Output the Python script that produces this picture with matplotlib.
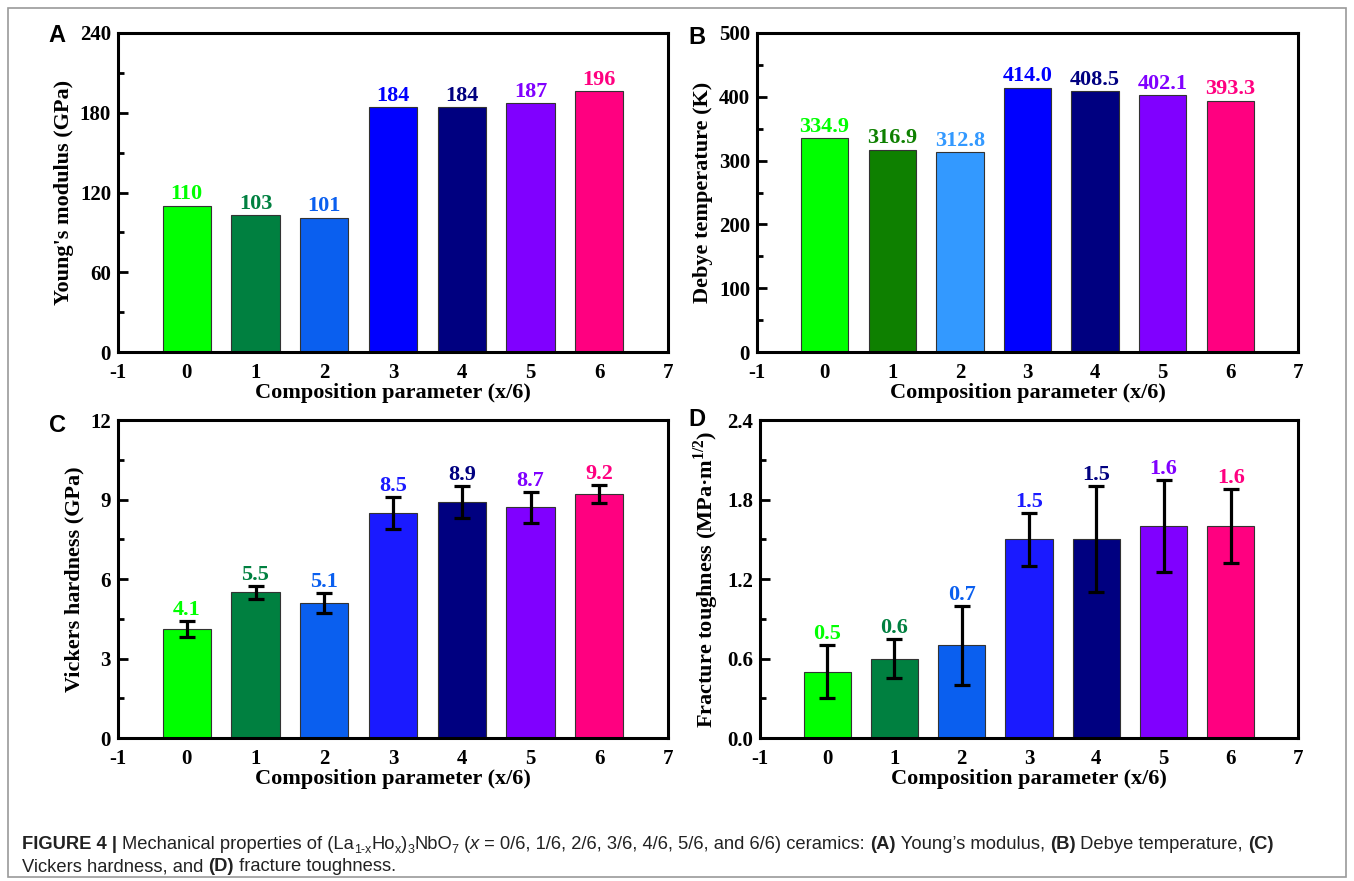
import matplotlib
matplotlib.use("Agg")
import matplotlib.pyplot as plt
from matplotlib.patches import Rectangle
from matplotlib.ticker import MultipleLocator

plt.rcParams['mathtext.fontset'] = 'custom'
plt.rcParams['mathtext.rm'] = 'Liberation Serif:bold'
plt.rcParams['mathtext.bf'] = 'Liberation Serif:bold'
plt.rcParams['axes.unicode_minus'] = False

# ---------------- data ----------------
compositions = [0, 1, 2, 3, 4, 5, 6]
young_modulus = [110, 103, 101, 184, 184, 187, 196]
young_labels = ["110", "103", "101", "184", "184", "187", "196"]
debye_temp = [334.9, 316.9, 312.8, 414.0, 408.5, 402.1, 393.3]
debye_labels = ["334.9", "316.9", "312.8", "414.0", "408.5", "402.1", "393.3"]
vickers = [4.1, 5.5, 5.1, 8.5, 8.9, 8.7, 9.2]
vickers_err = [0.3, 0.25, 0.38, 0.6, 0.6, 0.58, 0.35]
vickers_labels = ["4.1", "5.5", "5.1", "8.5", "8.9", "8.7", "9.2"]
toughness = [0.5, 0.6, 0.7, 1.5, 1.5, 1.6, 1.6]
toughness_err = [0.2, 0.15, 0.3, 0.2, 0.4, 0.35, 0.28]
toughness_labels = ["0.5", "0.6", "0.7", "1.5", "1.5", "1.6", "1.6"]
xtick_values = [-1, 0, 1, 2, 3, 4, 5, 6, 7]

colors_A = ["#00FF00", "#008040", "#0A5FEF", "#0000FF", "#000080", "#8000FF", "#FF0080"]
colors_B = ["#00FF00", "#0E8000", "#3399FF", "#0000FF", "#000080", "#8000FF", "#FF0080"]
colors_C = ["#00FF00", "#008040", "#0A5FEF", "#1A1AFF", "#000080", "#8000FF", "#FF0080"]
colors_D = ["#00FF00", "#008040", "#0A5FEF", "#1A1AFF", "#000080", "#8000FF", "#FF0080"]

W, H = 1354, 881
fig = plt.figure(figsize=(W / 100, H / 100), dpi=100)

SERIF = "Liberation Serif"
SANS = "Liberation Sans"


def px_axes(left, top, right, bottom):
    return fig.add_axes([left / W, 1 - bottom / H, (right - left) / W, (bottom - top) / H])


def panel(box, vals, labels, colors, ymax, ystep, ylabel, letter, letter_xy,
          err=None, fmt="{:.0f}", label_pad=0.0):
    ax = px_axes(*box)
    ax.bar(compositions, vals, width=0.7, color=colors, edgecolor="#333333",
           linewidth=0.8, zorder=2)
    if err is not None:
        ax.errorbar(compositions, vals, yerr=err, fmt="none", ecolor="black",
                    elinewidth=2.3, capsize=5.5, capthick=2.3, zorder=3)
    for i, (x, v) in enumerate(zip(compositions, vals)):
        top = v + (err[i] if err is not None else 0)
        ax.text(x, top + label_pad * ymax, labels[i], ha="center", va="bottom",
                color=colors[i], fontsize=16, fontweight="bold", family=SERIF)
    ax.set_xlim(-1, 7)
    ax.set_ylim(0, ymax)
    ax.set_xticks(xtick_values)
    ax.set_xticklabels([str(v) for v in xtick_values])
    ax.yaxis.set_major_locator(MultipleLocator(ystep))
    ax.yaxis.set_minor_locator(MultipleLocator(ystep / 2))
    ax.set_yticklabels([fmt.format(t) for t in ax.get_yticks()])
    ax.tick_params(axis="both", which="both", direction="in", top=False, right=False,
                   labelsize=15, width=2)
    ax.tick_params(axis="both", which="major", length=7)
    ax.tick_params(axis="x", which="major", pad=8)
    ax.tick_params(axis="y", which="major", pad=5)
    ax.tick_params(axis="y", which="minor", length=4)
    ax.tick_params(axis="x", which="minor", bottom=False)
    for lab in ax.get_xticklabels() + ax.get_yticklabels():
        lab.set_fontfamily(SERIF)
        lab.set_fontweight("bold")
    for s in ax.spines.values():
        s.set_linewidth(2.2)
    ax.set_xlabel("Composition parameter (x/6)", fontsize=16, fontweight="bold",
                  family=SERIF, labelpad=0)
    ax.set_ylabel(ylabel, fontsize=16, fontweight="bold", family=SERIF, labelpad=4)
    fig.text(letter_xy[0] / W, 1 - letter_xy[1] / H, letter, fontsize=17,
             fontweight="bold", family=SANS, ha="center", va="center")
    return ax


panel((118, 33, 668, 352), young_modulus, young_labels, colors_A, 240, 60,
      "Young's modulus (GPa)", "A", (57, 35), label_pad=0.005)
panel((757, 33, 1298, 352), debye_temp, debye_labels, colors_B, 500, 100,
      "Debye temperature (K)", "B", (697, 37), label_pad=0.005)
panel((118, 420, 668, 738), vickers, vickers_labels, colors_C, 12, 3,
      "Vickers hardness (GPa)", "C", (57, 425), err=vickers_err, label_pad=0.003)
panel((760, 420, 1298, 738), toughness, toughness_labels, colors_D, 2.4, 0.6,
      r"Fracture toughness (MPa·m$^{\mathregular{1/2}}$)", "D", (697, 420),
      err=toughness_err, fmt="{:.1f}", label_pad=0.003)

# figure border
fig.patches.append(Rectangle((8 / W, 4 / H), (W - 16) / W, (H - 12) / H,
                             transform=fig.transFigure, fill=False,
                             edgecolor="#9a9a9a", linewidth=1.2))

# caption built from pieces
fig.canvas.draw()
renderer = fig.canvas.get_renderer()


def write_line(pieces, x0, y0):
    x = x0
    for txt, weight, style, size, dy in pieces:
        t = fig.text(x / W, 1 - (y0 - dy) / H, txt, fontsize=size, fontweight=weight,
                     fontstyle=style, family=SANS, ha="left", va="baseline",
                     color="#222222")
        bb = t.get_window_extent(renderer=renderer)
        x += bb.width


N = 13.2
S = 9
line1 = [
    ("FIGURE 4 | ", "bold", "normal", N, 0),
    ("Mechanical properties of (La", "normal", "normal", N, 0),
    ("1-x", "normal", "normal", S, -4),
    ("Ho", "normal", "normal", N, 0),
    ("x", "normal", "normal", S, -4),
    (")", "normal", "normal", N, 0),
    ("3", "normal", "normal", S, -4),
    ("NbO", "normal", "normal", N, 0),
    ("7", "normal", "normal", S, -4),
    (" (", "normal", "normal", N, 0),
    ("x", "normal", "italic", N, 0),
    (" = 0/6, 1/6, 2/6, 3/6, 4/6, 5/6, and 6/6) ceramics: ", "normal", "normal", N, 0),
    ("(A)", "bold", "normal", N, 0),
    (" Young\u2019s modulus, ", "normal", "normal", N, 0),
    ("(B)", "bold", "normal", N, 0),
    (" Debye temperature, ", "normal", "normal", N, 0),
    ("(C)", "bold", "normal", N, 0),
]
line2 = [
    ("Vickers hardness, and ", "normal", "normal", N, 0),
    ("(D)", "bold", "normal", N, 0),
    (" fracture toughness.", "normal", "normal", N, 0),
]
write_line(line1, 22, 849)
write_line(line2, 22, 871)

fig.savefig("out.png", dpi=100)
